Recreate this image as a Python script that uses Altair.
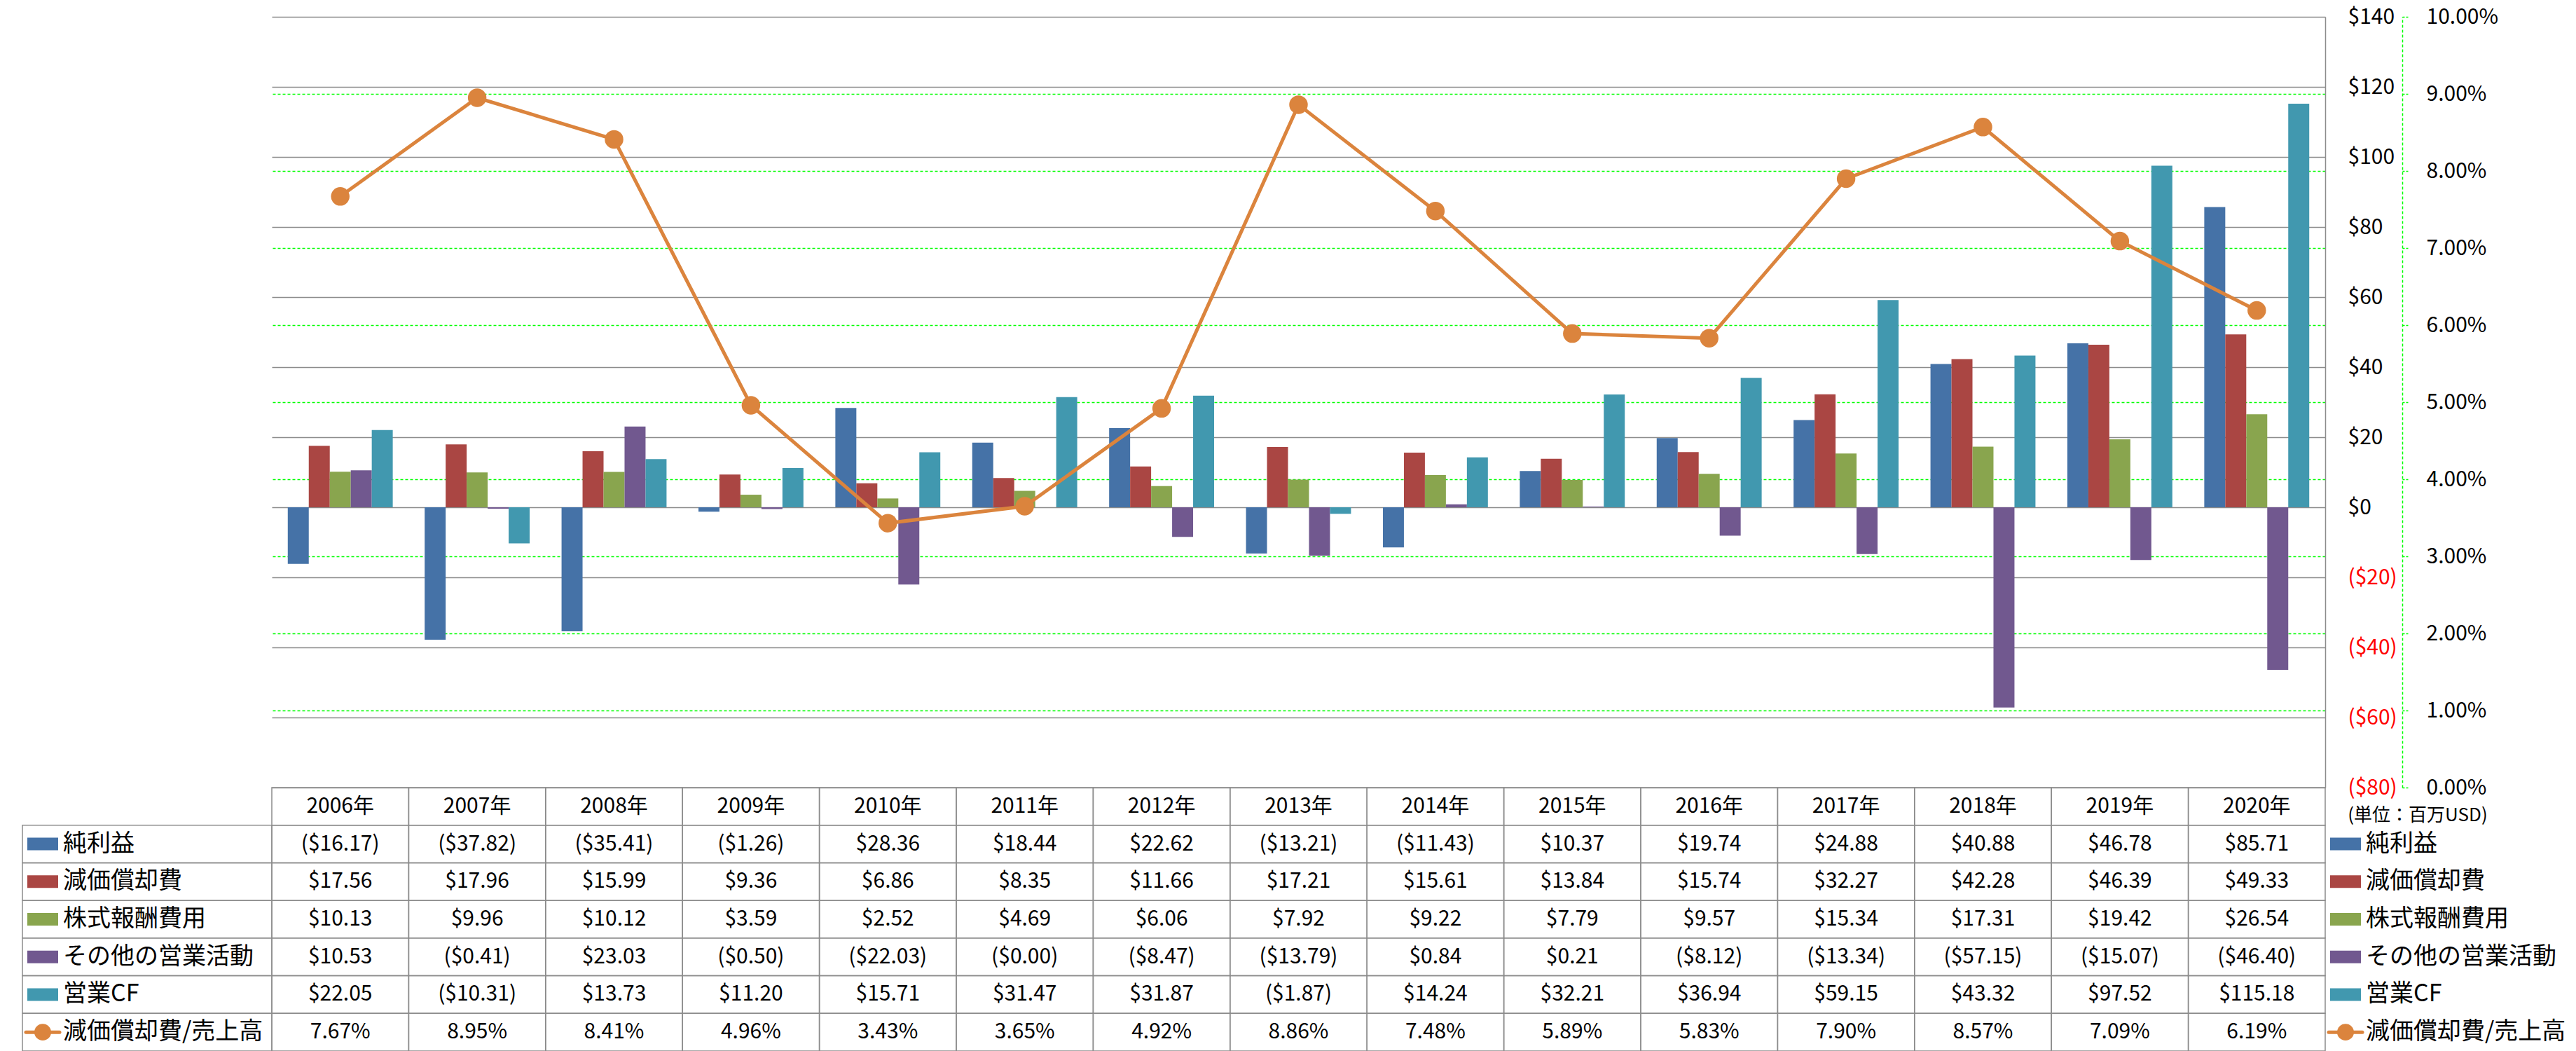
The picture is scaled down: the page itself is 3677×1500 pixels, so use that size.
import math
import altair as alt
import pandas as pd

# ---------------- data ----------------
years = [f"{y}年" for y in range(2006, 2021)]
series = ["純利益", "減価償却費", "株式報酬費用", "その他の営業活動", "営業CF"]
ratio_name = "減価償却費/売上高"

net_income = [-16.17, -37.82, -35.41, -1.26, 28.36, 18.44, 22.62, -13.21, -11.43, 10.37, 19.74, 24.88, 40.88, 46.78, 85.71]
depreciation = [17.56, 17.96, 15.99, 9.36, 6.86, 8.35, 11.66, 17.21, 15.61, 13.84, 15.74, 32.27, 42.28, 46.39, 49.33]
stock_comp = [10.13, 9.96, 10.12, 3.59, 2.52, 4.69, 6.06, 7.92, 9.22, 7.79, 9.57, 15.34, 17.31, 19.42, 26.54]
other_ops = [10.53, -0.41, 23.03, -0.50, -22.03, -0.0, -8.47, -13.79, 0.84, 0.21, -8.12, -13.34, -57.15, -15.07, -46.40]
op_cf = [22.05, -10.31, 13.73, 11.20, 15.71, 31.47, 31.87, -1.87, 14.24, 32.21, 36.94, 59.15, 43.32, 97.52, 115.18]
ratio_pct = [7.67, 8.95, 8.41, 4.96, 3.43, 3.65, 4.92, 8.86, 7.48, 5.89, 5.83, 7.90, 8.57, 7.09, 6.19]

dollar_ticks = [-80, -60, -40, -20, 0, 20, 40, 60, 80, 100, 120, 140]
pct_ticks = [0, 0.01, 0.02, 0.03, 0.04, 0.05, 0.06, 0.07, 0.08, 0.09, 0.10]
unit_label = "(単位：百万USD)"

colors = ["#4572A7", "#AA4643", "#89A54E", "#71588F", "#4198AF"]
line_color = "#DB843D"
GRID = "#8c8c8c"
GREEN = "#00ff00"
FONT = "Noto Sans CJK JP"

series_values = [net_income, depreciation, stock_comp, other_ops, op_cf]


def money(v):
    if math.copysign(1.0, v) < 0:
        return f"(${abs(v):.2f})"
    return f"${v:.2f}"


bar_df = pd.DataFrame(
    [{"year": y, "series": s, "value": vals[i]}
     for s, vals in zip(series, series_values) for i, y in enumerate(years)]
)
ratio_df = pd.DataFrame({"year": years, "ratio": [p / 100 for p in ratio_pct]})

rows = ["hdr"] + series + [ratio_name]
cell_records = []
for i, y in enumerate(years):
    cell_records.append({"year": y, "row": "hdr", "text": y})
    for s, vals in zip(series, series_values):
        cell_records.append({"year": y, "row": s, "text": money(vals[i])})
    cell_records.append({"year": y, "row": ratio_name, "text": f"{ratio_pct[i]:.2f}%"})
cell_df = pd.DataFrame(cell_records)

label_df = pd.DataFrame({"row": series + [ratio_name], "label": series + [ratio_name]})
swatch_df = pd.DataFrame({"row": series})
ratio_sw_df = pd.DataFrame({"row": [ratio_name]})
unit_df = pd.DataFrame({"row": ["hdr"], "label": [unit_label]})

# ---------------- sizes ----------------
PLOT_W, PLOT_H = 2931, 1100
TABLE_H = 376
LABEL_W = 356
LEGEND_W = 344

x_enc = alt.X("year:N", sort=years,
              scale=alt.Scale(domain=years, paddingInner=0, paddingOuter=0), axis=None)

# ---------------- main plot ----------------
dollar_axis = alt.Axis(
    orient="right", values=dollar_ticks, grid=True, gridColor=GRID, gridWidth=1.5,
    domain=True, domainColor=GRID, domainWidth=1.5, ticks=False, labelPadding=32,
    labelFont=FONT, labelFontSize=30, title=None,
    labelExpr="datum.value < 0 ? '($' + (-datum.value) + ')' : '$' + datum.value",
    labelColor={"condition": {"test": "datum.value < 0", "value": "#ff0000"}, "value": "#000000"},
)

bars = alt.Chart(bar_df).mark_bar().encode(
    x=x_enc,
    xOffset=alt.XOffset("series:N", sort=series,
                        scale=alt.Scale(domain=series, paddingInner=0, paddingOuter=0.76)),
    y=alt.Y("value:Q", scale=alt.Scale(domain=[-80, 140], nice=False, zero=False), axis=dollar_axis),
    color=alt.Color("series:N", scale=alt.Scale(domain=series, range=colors), legend=None),
)

ratio_axis = alt.Axis(
    orient="right", offset=110, values=pct_ticks, format=".2%", grid=True,
    gridColor=GREEN, gridDash=[4, 3], gridWidth=1.5,
    gridOpacity={"condition": {"test": "datum.value <= 0 || datum.value >= 0.0999", "value": 0}, "value": 1},
    domain=True, domainColor=GREEN, domainDash=[4, 3], domainWidth=1.5,
    ticks=True, tickColor=GREEN, tickDash=[3, 2], tickSize=10, tickWidth=1.5,
    labelPadding=24, labelFont=FONT, labelFontSize=30, labelColor="#000000", title=None,
)

line = alt.Chart(ratio_df).mark_line(
    color=line_color, strokeWidth=5,
    point=alt.OverlayMarkDef(filled=True, size=700, color=line_color, opacity=1),
).encode(
    x=x_enc,
    y=alt.Y("ratio:Q", scale=alt.Scale(domain=[0, 0.10], nice=False, zero=False), axis=ratio_axis),
)

top = alt.layer(bars, line).resolve_scale(y="independent").properties(width=PLOT_W, height=PLOT_H)

# ---------------- data table ----------------
y_row = alt.Y("row:N", sort=rows, scale=alt.Scale(domain=rows, paddingInner=0, paddingOuter=0), axis=None)

cells = alt.Chart(cell_df).mark_rect(fill="transparent", stroke=GRID, strokeWidth=1.5).encode(
    x=x_enc, y=y_row)
cell_text = alt.Chart(cell_df).mark_text(font=FONT, fontSize=30, color="#000000",
                                         align="center", baseline="middle").encode(
    x=x_enc, y=y_row, text="text:N")
table = alt.layer(cells, cell_text).properties(width=PLOT_W, height=TABLE_H)


def legend_layers():
    sw = alt.Chart(swatch_df).mark_point(
        shape="M-1.1,-0.45L1.1,-0.45L1.1,0.45L-1.1,0.45Z", size=1600, filled=True, opacity=1
    ).encode(
        y=y_row, x=alt.value(29),
        color=alt.Color("row:N", scale=alt.Scale(domain=series, range=colors), legend=None),
    )
    rl = alt.Chart(ratio_sw_df).mark_rule(color=line_color, strokeWidth=5, strokeCap="round").encode(
        y=y_row, x=alt.value(5), x2=alt.value(53))
    rp = alt.Chart(ratio_sw_df).mark_point(filled=True, size=570, color=line_color, opacity=1).encode(
        y=y_row, x=alt.value(29))
    tx = alt.Chart(label_df).mark_text(font=FONT, fontSize=34, color="#000000",
                                       align="left", baseline="middle").encode(
        y=y_row, x=alt.value(58), text="label:N")
    return [sw, rl, rp, tx]


row_box = alt.Chart(label_df).mark_rect(fill="transparent", stroke=GRID, strokeWidth=1.5).encode(y=y_row)
label_col = alt.layer(row_box, *legend_layers()).properties(width=LABEL_W, height=TABLE_H)

unit_text = alt.Chart(unit_df).mark_text(font=FONT, fontSize=26, color="#000000",
                                         align="center", baseline="middle", dy=13).encode(
    y=y_row, x=alt.value(132), text="label:N")
legend_col = alt.layer(*legend_layers(), unit_text).properties(width=LEGEND_W, height=TABLE_H)

blank = alt.Chart(pd.DataFrame({"a": [0]})).mark_point(opacity=0).properties(width=1, height=1)

chart = alt.concat(
    blank, top, blank, label_col, table, legend_col,
    columns=3, spacing=0, bounds="flush", align="each",
).properties(
    padding={"left": 29, "top": 8, "right": 0, "bottom": 0},
    background="white",
).configure_view(stroke="transparent")

chart.save("out.html", embed_options={"renderer": "svg", "actions": False})
